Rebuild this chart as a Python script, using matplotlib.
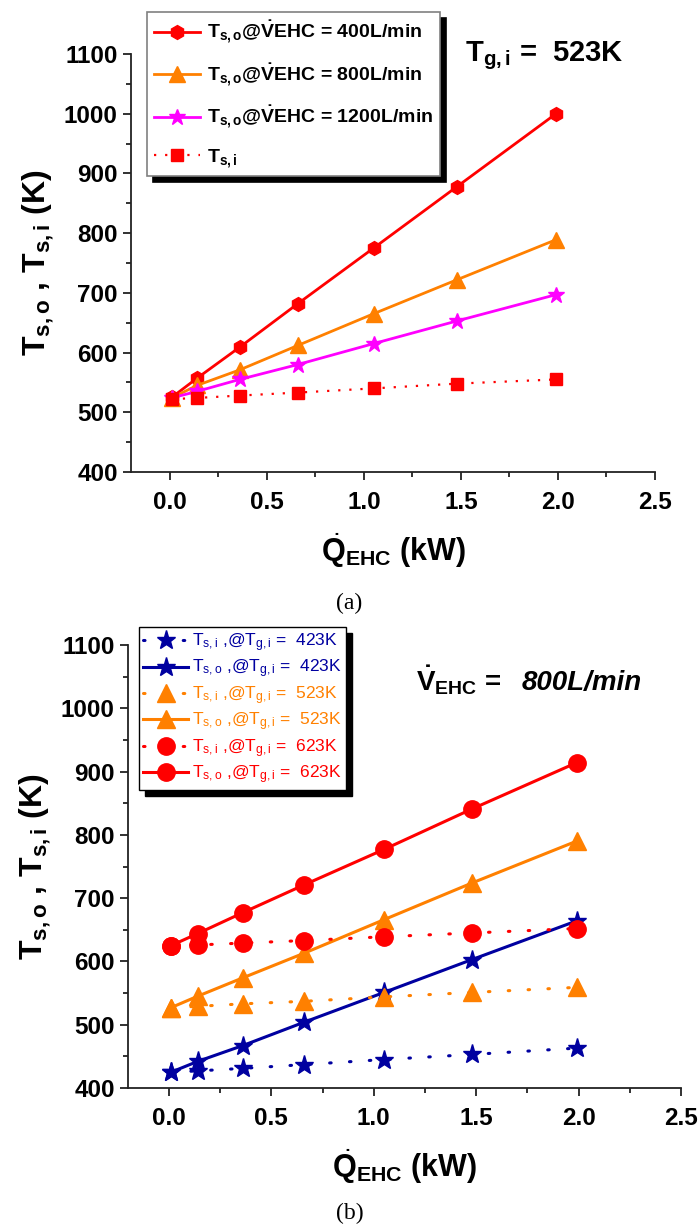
import numpy as np
import matplotlib
matplotlib.use("Agg")
import matplotlib.pyplot as plt
from matplotlib.ticker import MultipleLocator

plt.rcParams['font.family'] = ['Liberation Sans', 'DejaVu Sans']
plt.rcParams['mathtext.fontset'] = 'custom'
plt.rcParams['mathtext.rm'] = 'Liberation Sans'
plt.rcParams['mathtext.bf'] = 'Liberation Sans:bold'
plt.rcParams['mathtext.it'] = 'Liberation Sans:italic'

# heater power (kW), same for every series
q_ehc = [0.01, 0.14, 0.36, 0.66, 1.05, 1.48, 1.99]

# (a) Tg,i = 523K, different flow rates
ts_o_400 = [525, 557, 609, 682, 775, 878, 1000]
ts_o_800 = [524, 545, 571, 612, 665, 722, 789]
ts_o_1200 = [524, 535, 555, 580, 615, 653, 697]
ts_i_a = [522, 524, 528, 533, 540, 548, 555]

# (b) V = 800L/min, different gas inlet temps
ts_i_423 = [425, 427, 431, 437, 445, 453, 463]
ts_o_423 = [425, 442, 467, 504, 551, 603, 664]
ts_i_523 = [527, 529, 533, 537, 544, 551, 559]
ts_o_523 = [527, 545, 574, 613, 666, 724, 790]
ts_i_623 = [625, 626, 629, 633, 639, 645, 652]
ts_o_623 = [625, 644, 677, 721, 777, 841, 914]

RED = '#FF0000'
ORANGE = '#FF8000'
MAGENTA = '#FF00FF'
NAVY = '#0000A0'

W, H = 699, 1226
fig = plt.figure(figsize=(W / 100, H / 100), dpi=100)


def px_box(x0, x1, y0, y1):
    # left, right, top, bottom in pixels -> axes rect
    return [x0 / W, 1 - y1 / H, (x1 - x0) / W, (y1 - y0) / H]


def style_axes(ax):
    ax.set_xlim(-0.2, 2.5)
    ax.set_ylim(400, 1100)
    ax.xaxis.set_major_locator(MultipleLocator(0.5))
    ax.xaxis.set_minor_locator(MultipleLocator(0.25))
    ax.yaxis.set_major_locator(MultipleLocator(100))
    ax.yaxis.set_minor_locator(MultipleLocator(50))
    ax.xaxis.set_major_formatter(matplotlib.ticker.FormatStrFormatter('%.1f'))
    for s in ['top', 'right']:
        ax.spines[s].set_visible(False)
    for s in ['left', 'bottom']:
        ax.spines[s].set_linewidth(1.3)
        ax.spines[s].set_color('#222222')
    ax.tick_params(which='major', direction='out', length=6, width=1.3,
                   labelsize=17.5, color='#222222')
    ax.tick_params(axis='x', which='major', pad=8)
    ax.tick_params(which='minor', direction='out', length=3.5, width=1.3,
                   color='#222222')
    for lab in ax.get_xticklabels() + ax.get_yticklabels():
        lab.set_fontweight('bold')
    ax.set_ylabel(r'$\mathbf{T_{s,o}}$ , $\mathbf{T_{s,i}}$ (K)',
                  fontsize=23, fontweight='bold', labelpad=6)
    ax.set_xlabel(r'$\dot{\mathbf{Q}}_{\mathbf{EHC}}$ (kW)', fontsize=22,
                  fontweight='bold', labelpad=12)


# ---------- (a) ----------
ax1 = fig.add_axes(px_box(131, 655, 54, 472))
ax1.plot(q_ehc, ts_o_400, color=RED, lw=2, marker='h', ms=10,
         label=r'$\mathbf{T_{s,o}@\dot{V}}$EHC = 400L/min')
ax1.plot(q_ehc, ts_o_800, color=ORANGE, lw=2, marker='^', ms=11,
         label=r'$\mathbf{T_{s,o}@\dot{V}}$EHC = 800L/min')
ax1.plot(q_ehc, ts_o_1200, color=MAGENTA, lw=2, marker='*', ms=12,
         label=r'$\mathbf{T_{s,o}@\dot{V}}$EHC = 1200L/min')
ax1.plot(q_ehc, ts_i_a, color=RED, lw=1.6, ls=(0, (1, 4)), marker='s', ms=9,
         label=r'$\mathbf{T_{s,i}}$')
style_axes(ax1)
leg1 = ax1.legend(loc='upper left', bbox_to_anchor=(147 / W, 1 - 12 / H),
                  bbox_transform=fig.transFigure, borderaxespad=0,
                  fancybox=False, edgecolor='#808080', framealpha=1,
                  shadow={'color': 'black', 'alpha': 1, 'ox': 4, 'oy': -4},
                  handlelength=2.4, prop={'weight': 'bold', 'size': 14},
                  labelspacing=0.8, borderpad=0.35, handletextpad=0.35)
leg1.get_frame().set_linewidth(1.2)
fig.text(465 / W, 1 - 61 / H, r'$\mathbf{T_{g,i}}$ =  523K', fontsize=21,
         fontweight='bold', ha='left', va='baseline')

fig.text(0.5, 1 - 609 / H, '(a)', fontsize=17, family='Liberation Serif',
         ha='center', va='baseline')

# ---------- (b) ----------
ax2 = fig.add_axes(px_box(128, 681, 645, 1088))
dot = (0, (0.5, 6))
ax2.plot(q_ehc, ts_i_423, color=NAVY, lw=2.2, ls=dot, dash_capstyle='round',
         marker='*', ms=14, label=r'$\mathrm{T_{s,i}}$ ,@$\mathrm{T_{g,i}}$ =  423K')
ax2.plot(q_ehc, ts_o_423, color=NAVY, lw=2.2, marker='*', ms=14,
         label=r'$\mathrm{T_{s,o}}$ ,@$\mathrm{T_{g,i}}$ =  423K')
ax2.plot(q_ehc, ts_i_523, color=ORANGE, lw=2.2, ls=dot, dash_capstyle='round',
         marker='^', ms=13, label=r'$\mathrm{T_{s,i}}$ ,@$\mathrm{T_{g,i}}$ =  523K')
ax2.plot(q_ehc, ts_o_523, color=ORANGE, lw=2.2, marker='^', ms=13,
         label=r'$\mathrm{T_{s,o}}$ ,@$\mathrm{T_{g,i}}$ =  523K')
ax2.plot(q_ehc, ts_i_623, color=RED, lw=2.2, ls=dot, dash_capstyle='round',
         marker='o', ms=12.5, label=r'$\mathrm{T_{s,i}}$ ,@$\mathrm{T_{g,i}}$ =  623K')
ax2.plot(q_ehc, ts_o_623, color=RED, lw=2.2, marker='o', ms=12.5,
         label=r'$\mathrm{T_{s,o}}$ ,@$\mathrm{T_{g,i}}$ =  623K')
style_axes(ax2)
leg2 = ax2.legend(loc='upper left', bbox_to_anchor=(139 / W, 1 - 627 / H),
                  bbox_transform=fig.transFigure, borderaxespad=0,
                  fancybox=False, edgecolor='black', framealpha=1,
                  shadow={'color': 'black', 'alpha': 1, 'ox': 4, 'oy': -4},
                  handlelength=2.6, prop={'size': 12.5}, labelspacing=0.22,
                  borderpad=0.25, handletextpad=0.2)
leg2.get_frame().set_linewidth(1.0)
for txt, line in zip(leg2.get_texts(), leg2.get_lines()):
    txt.set_color(line.get_color())
fig.text(416 / W, 1 - 690 / H, r'$\mathbf{\dot{V}_{EHC}}$ =', fontsize=20,
         fontweight='bold', ha='left', va='baseline')
fig.text(522 / W, 1 - 690 / H, '800L/min', fontsize=20, fontweight='bold',
         style='italic', ha='left', va='baseline')

fig.text(0.5, 1 - 1219 / H, '(b)', fontsize=17, family='Liberation Serif',
         ha='center', va='baseline')

fig.savefig('out.png', dpi=100)
